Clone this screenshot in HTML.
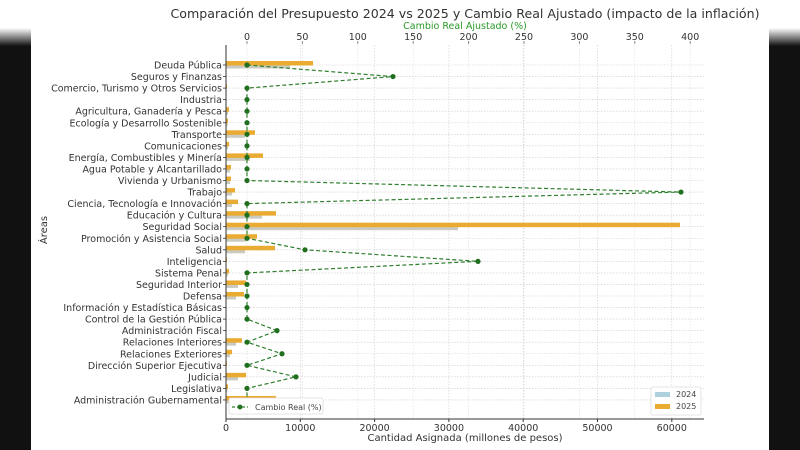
<!DOCTYPE html>
<html><head><meta charset="utf-8"><style>
html,body{margin:0;padding:0;background:#fff;width:800px;height:450px;overflow:hidden}
svg{display:block;font-family:"DejaVu Sans","Liberation Sans",sans-serif}
</style></head><body>
<svg id="s" width="800" height="450" viewBox="0 0 800 450" xmlns="http://www.w3.org/2000/svg">
<defs>
<linearGradient id="g" x1="0" y1="0" x2="0" y2="1"><stop offset="0" stop-color="#fff"/><stop offset="1" stop-color="#111"/></linearGradient>
</defs>
<rect x="0" y="0" width="800" height="450" fill="#fff"/>
<rect x="0" y="28" width="31" height="18" fill="url(#g)"/>
<rect x="0" y="46" width="31" height="404" fill="#111"/>
<rect x="769" y="28" width="31" height="18" fill="url(#g)"/>
<rect x="769" y="46" width="31" height="404" fill="#111"/>
<text x="465" y="18" font-size="12.6" text-anchor="middle" fill="#333">Comparación del Presupuesto 2024 vs 2025 y Cambio Real Ajustado (impacto de la inflación)</text>
<text x="465" y="29" font-size="9.5" text-anchor="middle" fill="#2a9a2a">Cambio Real Ajustado (%)</text>
<text x="465" y="441" font-size="10" text-anchor="middle" fill="#333">Cantidad Asignada (millones de pesos)</text>
<text transform="translate(47,230) rotate(-90)" font-size="10" text-anchor="middle" fill="#333">Áreas</text>
<g id="grid"></g>
<g id="bars"></g>
<g id="line"></g>
<g id="axes"></g>
</svg>
<script>
const NS="http://www.w3.org/2000/svg";
function el(p,t,a,txt){const e=document.createElementNS(NS,t);for(const k in a)e.setAttribute(k,a[k]);if(txt!==undefined)e.textContent=txt;document.getElementById(p).appendChild(e);return e;}
const cats=["Deuda Pública","Seguros y Finanzas","Comercio, Turismo y Otros Servicios","Industria","Agricultura, Ganadería y Pesca","Ecología y Desarrollo Sostenible","Transporte","Comunicaciones","Energía, Combustibles y Minería","Agua Potable y Alcantarillado","Vivienda y Urbanismo","Trabajo","Ciencia, Tecnología e Innovación","Educación y Cultura","Seguridad Social","Promoción y Asistencia Social","Salud","Inteligencia","Sistema Penal","Seguridad Interior","Defensa","Información y Estadística Básicas","Control de la Gestión Pública","Administración Fiscal","Relaciones Interiores","Relaciones Exteriores","Dirección Superior Ejecutiva","Judicial","Legislativa","Administración Gubernamental"];
const b25=[313,226,227,226.5,229,228,255,229,263,231,231,235,238,276,680,257,275,227,229,246,244,226,226,226,242,232,227,246,228,276];
const b24=[290,226,226.5,226.5,228,227.5,245,228,250,230,230,232,232,262,458,246,245,226.5,228,238,236,226,226,226,236,230,226.5,238,227.5,264];
const ch=[247,393,247,247,247,247,247,247,247,247,247,681,247,247,247,247,305,478,247,247,247,247,247,277,247,282,247,296,247,247];
const X0=226,X1=704,YT=45,YB=419;
const ry=i=>65+i*11.55;
for(let i=0;i<30;i++){const y=ry(i);el("grid","line",{x1:X0,x2:X1,y1:y,y2:y,stroke:"#ccc","stroke-width":0.6,"stroke-dasharray":"1.5,1.5"});}
for(let k=0;k<=6;k++){const x=X0+k*74.3;el("grid","line",{x1:x,x2:x,y1:YT,y2:YB,stroke:"#ccc","stroke-width":0.6,"stroke-dasharray":"1.5,1.5"});}
for(let k=0;k<=8;k++){const x=247+k*55.4;el("grid","line",{x1:x,x2:x,y1:YT,y2:YB,stroke:"#ddd","stroke-width":0.6,"stroke-dasharray":"1.5,1.5"});}
for(let i=0;i<30;i++){const y=ry(i);
el("bars","rect",{x:X0,y:y-1,width:b24[i]-X0,height:4.5,fill:"#c9cbc0"});
el("bars","rect",{x:X0,y:y-4,width:b25[i]-X0,height:4.5,fill:"#eaab33"});}
let d="";for(let i=0;i<30;i++){d+=(i?"L":"M")+ch[i]+","+ry(i);}
el("line","path",{d:d,fill:"none",stroke:"#2f7f2f","stroke-width":1.2,"stroke-dasharray":"4,2.5"});
for(let i=0;i<30;i++)el("line","circle",{cx:ch[i],cy:ry(i),r:2.6,fill:"#1f6f1f"});
el("axes","line",{x1:X0,x2:X0,y1:YT,y2:YB,stroke:"#333","stroke-width":1});
el("axes","line",{x1:X0,x2:X1,y1:YB,y2:YB,stroke:"#333","stroke-width":1});
for(let i=0;i<30;i++){const y=ry(i);el("axes","line",{x1:X0-3,x2:X0,y1:y,y2:y,stroke:"#333","stroke-width":0.8});
el("axes","text",{x:X0-4,y:y+3.5,"font-size":9.5,"text-anchor":"end",fill:"#333"},cats[i]);}
for(let k=0;k<=6;k++){const x=X0+k*74.3;el("axes","line",{x1:x,x2:x,y1:YB,y2:YB+3,stroke:"#333"});
el("axes","text",{x:x,y:YB+12,"font-size":9.5,"text-anchor":"middle",fill:"#333"},String(k*10000));}
for(let k=0;k<=8;k++){const x=247+k*55.4;el("axes","line",{x1:x,x2:x,y1:YT-4,y2:YT-1,stroke:"#888"});
el("axes","text",{x:x,y:40,"font-size":9.5,"text-anchor":"middle",fill:"#333"},String(k*50));}
el("axes","rect",{x:229,y:398,width:94,height:16,fill:"#fff",stroke:"#ddd","stroke-width":0.8,rx:2});
el("axes","line",{x1:232,x2:248,y1:407,y2:407,stroke:"#2f7f2f","stroke-width":1.2,"stroke-dasharray":"3,2"});
el("axes","circle",{cx:240,cy:407,r:2.4,fill:"#1f6f1f"});
el("axes","text",{x:255,y:410,"font-size":8,fill:"#444"},"Cambio Real (%)");
el("axes","rect",{x:651,y:387,width:50,height:28,fill:"#fff",stroke:"#ddd","stroke-width":0.8,rx:2});
el("axes","rect",{x:655,y:392,width:15,height:5,fill:"#aecfdd"});
el("axes","text",{x:676,y:397,"font-size":8,fill:"#444"},"2024");
el("axes","rect",{x:655,y:404,width:15,height:5,fill:"#eaab33"});
el("axes","text",{x:676,y:409,"font-size":8,fill:"#444"},"2025");
</script>
</body></html>
